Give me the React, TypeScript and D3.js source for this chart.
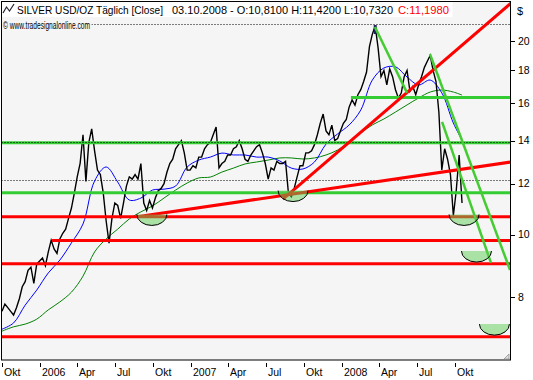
import React from "react";
import * as d3 from "d3";

const W = 533;
const H = 380;
const START = new Date(2005, 9, 1);
const DAY = 864e5;

// weekly closes, starting Oct 2005
const closes = [
  7.6, 7.8, 7.7, 7.6, 7.5, 7.7, 7.95, 8.3, 8.45, 8.8,
  8.9, 8.4, 9.0, 9.1, 9.2, 8.95, 9.4, 9.8, 9.5, 9.35,
  9.85, 10.05, 10.2, 10.6, 11.0, 11.6, 12.3, 12.9, 14.3, 12.1,
  13.9, 14.6, 13.5, 12.6, 12.4, 11.6, 10.5, 9.7, 10.6, 11.2,
  11.1, 10.6, 11.2, 11.9, 12.3, 12.2, 12.4, 12.2, 12.9, 11.2,
  10.9, 11.3, 11.0, 11.4, 11.7, 11.8, 12.0, 12.5, 12.9, 13.1,
  13.6, 13.8, 14.0, 13.4, 12.6, 12.6, 12.8, 12.7, 13.2, 13.2,
  13.6, 13.8, 13.9, 14.3, 14.7, 12.7, 12.9, 13.0, 13.3, 13.3,
  13.6, 13.7, 14.0, 13.6, 13.1, 13.0, 13.3, 13.5, 13.7, 13.8,
  13.4, 12.9, 12.2, 12.7, 12.6, 13.0, 12.9, 12.9, 13.0, 11.6,
  11.45, 11.8, 12.3, 12.8, 12.8, 13.4, 13.4, 13.5, 13.8, 14.3,
  14.9, 15.4, 14.5, 14.3, 14.8, 14.0, 14.1, 14.5, 14.9, 15.1,
  15.8, 16.2, 15.9, 16.5, 16.8, 17.3, 17.9, 19.6, 20.5, 21.1,
  19.5, 17.6, 18.0, 17.1, 18.1, 17.6, 16.8, 16.3, 16.6, 17.6,
  18.0, 16.7, 17.0, 16.5, 17.1, 17.6, 18.2, 18.6, 19.0, 18.0,
  17.3, 15.5, 12.6, 13.6, 13.1, 12.4, 10.7, 11.7, 13.3, 11.2,
];

// moving averages sampled every 4 weeks
const maWeeks = [
  0, 4, 8, 12, 16, 20, 24, 28, 32, 36, 40, 44, 48, 52, 56, 60, 64, 68, 72, 76,
  80, 84, 88, 92, 96, 100, 104, 108, 112, 116, 120, 124, 128, 132, 136, 140,
  144, 148, 152, 156, 159,
];
const maFast = [
  7.13, 7.29, 7.77, 8.2, 8.72, 9.13, 9.71, 10.39, 12.12, 12.74, 12.07, 11.32,
  11.4, 11.73, 11.77, 11.9, 12.74, 13.06, 13.2, 13.39, 13.3, 13.3, 13.2, 13.2,
  13.02, 12.69, 12.65, 12.97, 13.83, 14.34, 14.81, 15.62, 17.39, 18.16, 18.23,
  17.58, 17.09, 17.39, 16.61, 14.91, 14.03,
];
const maSlow = [
  7.08, 7.19, 7.26, 7.39, 7.64, 7.86, 8.14, 8.62, 9.4, 9.85, 10.2, 10.58, 10.85,
  11.08, 11.4, 11.73, 12.03, 12.25, 12.29, 12.51, 12.69, 12.88, 12.97, 13.06,
  13.16, 13.16, 13.11, 13.16, 13.3, 13.54, 13.93, 14.39, 14.81, 15.13, 15.51,
  15.91, 16.31, 16.66, 16.78, 16.66, 16.48,
];

const greenLevels = [16.34, 13.9, 11.62];
const greenLevelFrom = [120.6, 0, 0];
const redLevels = [10.66, 9.79, 9.01, 6.94];
const redLevelFrom = [0, 17.3, 0, 0];
const dottedLevels = [21.25, 13.94, 12.16];

// [week0, value0, week1, value1]
const redTrends = [
  [46.7, 10.66, 175.9, 12.97],
  [97.1, 11.36, 175.9, 22.9],
];
const greenTrends = [
  [128.9, 21.03, 140.0, 16.61],
  [147.9, 19.09, 175.6, 8.81],
  [152.1, 14.97, 169.0, 9.04],
];
// [center week, top value]
const bowls = [
  [51.8, 10.75],
  [100.6, 11.71],
  [159.7, 10.75],
  [164.0, 9.43],
  [170.2, 7.26],
];

const yTicks = [8, 10, 12, 14, 16, 18, 20];
const monthNames: Record<number, string> = { 3: "Apr", 6: "Jul", 9: "Okt" };

const FONT = "'Liberation Sans', Arial, sans-serif";

const wDate = (w: number) => new Date(START.getTime() + w * 7 * DAY);

export default function App() {
  const x = d3
    .scaleTime()
    .domain([new Date(2005, 9, 1), new Date(2008, 9, 1)])
    .range([2, 455]);
  const y = d3.scaleLog().domain([8, 20]).range([297, 41]);
  const X = (w: number) => x(wDate(w));

  const plotL = 1.5, plotT = 1.5, plotR = 510.5, plotB = 360;

  const priceLine = d3
    .line<number>()
    .x((_, i) => X(i))
    .y((d) => y(d))(closes) as string;

  const maLine = (vals: number[]) =>
    d3
      .line<number>()
      .curve(d3.curveCatmullRom.alpha(0.5))
      .x((_, i) => X(maWeeks[i]))
      .y((d) => y(d))(vals) as string;

  const ticks = d3.timeMonth.range(new Date(2005, 9, 1), new Date(2008, 10, 1), 3);

  const maxIdx = d3.maxIndex(closes);

  const rx = 15, ry = 11;

  return (
    <svg
      width={W}
      height={H}
      style={{ position: "absolute", left: 0, top: 0, background: "#fff" }}
      fontFamily={FONT}
    >
      <defs>
        <clipPath id="plot">
          <rect x={plotL + 0.5} y={plotT + 0.5} width={plotR - plotL - 1} height={plotB - plotT - 1} />
        </clipPath>
      </defs>
      <rect x={plotL} y={plotT} width={plotR - plotL} height={plotB - plotT} fill="#F5F5F5" />
      <g clipPath="url(#plot)">
        {dottedLevels.map((v, i) => (
          <line key={"d" + i} x1={plotL} x2={plotR} y1={Math.round(y(v)) + 0.5} y2={Math.round(y(v)) + 0.5}
            stroke="#000" strokeWidth={1} strokeDasharray="1 2" />
        ))}
        <path d={maLine(maSlow)} fill="none" stroke="#008000" strokeWidth={1} />
        <path d={maLine(maFast)} fill="none" stroke="#0000FF" strokeWidth={1} />
        <path d={priceLine} fill="none" stroke="#000" strokeWidth={1.4} strokeLinejoin="miter" />
        <rect x={X(maxIdx) - 1.5} y={y(closes[maxIdx]) - 1} width={3} height={9} fill="#1E1E5A" />
        {greenLevels.map((v, i) => (
          <line key={"g" + i} x1={Math.max(plotL, X(greenLevelFrom[i]))} x2={plotR} y1={y(v)} y2={y(v)}
            stroke="#33CC33" strokeWidth={3} />
        ))}
        <line x1={plotL} x2={plotR} y1={Math.round(y(dottedLevels[1])) + 0.5} y2={Math.round(y(dottedLevels[1])) + 0.5}
          stroke="#000" strokeWidth={1} strokeDasharray="1 2" />
        {redLevels.map((v, i) => (
          <line key={"r" + i} x1={Math.max(plotL, X(redLevelFrom[i]))} x2={plotR} y1={y(v)} y2={y(v)}
            stroke="#FF0000" strokeWidth={3} />
        ))}
        {redTrends.map((t, i) => (
          <line key={"rt" + i} x1={X(t[0])} y1={y(t[1])} x2={X(t[2])} y2={y(t[3])}
            stroke="#FF0000" strokeWidth={3} />
        ))}
        {greenTrends.map((t, i) => (
          <line key={"gt" + i} x1={X(t[0])} y1={y(t[1])} x2={X(t[2])} y2={y(t[3])}
            stroke="#44CC33" strokeWidth={2.5} />
        ))}
        {bowls.map((b, i) => {
          const cx = X(b[0]);
          const cy = y(b[1]);
          return (
            <g key={"b" + i}>
              <path d={`M${cx - rx},${cy} A${rx},${ry} 0 0 0 ${cx + rx},${cy} Z`}
                fill="rgb(95,205,85)" fillOpacity={0.5} />
              <path d={`M${cx - rx},${cy} A${rx},${ry} 0 0 0 ${cx + rx},${cy}`}
                fill="none" stroke="#000" strokeWidth={1} />
            </g>
          );
        })}
        {/* title boxes */}
        <rect x={plotL} y={plotT} width={451} height={15.5} fill="#fff" />
        <rect x={plotL} y={18} width={90} height={13} fill="#F5F5F5" />
      </g>
      <rect x={plotL} y={plotT} width={plotR - plotL} height={plotB - plotT} fill="none" stroke="#000" strokeWidth={1} />
      {/* resize glyph */}
      <path d="M504,359 L509,359 L509,354 Z" fill="#ddd" stroke="#888" strokeWidth={0.7} />

      {/* title */}
      <polyline points="3,13 6.5,7 9.5,11 14,4" fill="none" stroke="#223" strokeWidth={1.2} />
      <text x={17} y={14} fontSize={11} textLength={146} lengthAdjust="spacingAndGlyphs">SILVER USD/OZ Täglich [Close]</text>
      <text x={172} y={14} fontSize={11} textLength={221} lengthAdjust="spacingAndGlyphs">03.10.2008 - O:10,8100 H:11,4200 L:10,7320</text>
      <text x={398} y={14} fontSize={11} fill="#FF0000" textLength={51} lengthAdjust="spacingAndGlyphs">C:11,1980</text>
      <text x={3} y={29} fontSize={10.5} textLength={87} lengthAdjust="spacingAndGlyphs">© www.tradesignalonline.com</text>

      {/* y axis */}
      <text x={517} y={15} fontSize={11}>$</text>
      {yTicks.map((t) => (
        <g key={"yt" + t}>
          <line x1={511} x2={515} y1={Math.round(y(t)) + 0.5} y2={Math.round(y(t)) + 0.5} stroke="#000" />
          <text x={518} y={y(t) + 3.5} fontSize={10.5}>{t}</text>
        </g>
      ))}

      {/* x axis */}
      {ticks.map((d, i) => {
        const tx = Math.round(x(d)) + 0.5;
        const label = d.getMonth() === 0 ? String(d.getFullYear()) : monthNames[d.getMonth()];
        return (
          <g key={"xt" + i}>
            <line x1={tx} x2={tx} y1={363} y2={367} stroke="#000" />
            <text x={tx + 1.5} y={376} fontSize={10.5}>{label}</text>
          </g>
        );
      })}
    </svg>
  );
}
